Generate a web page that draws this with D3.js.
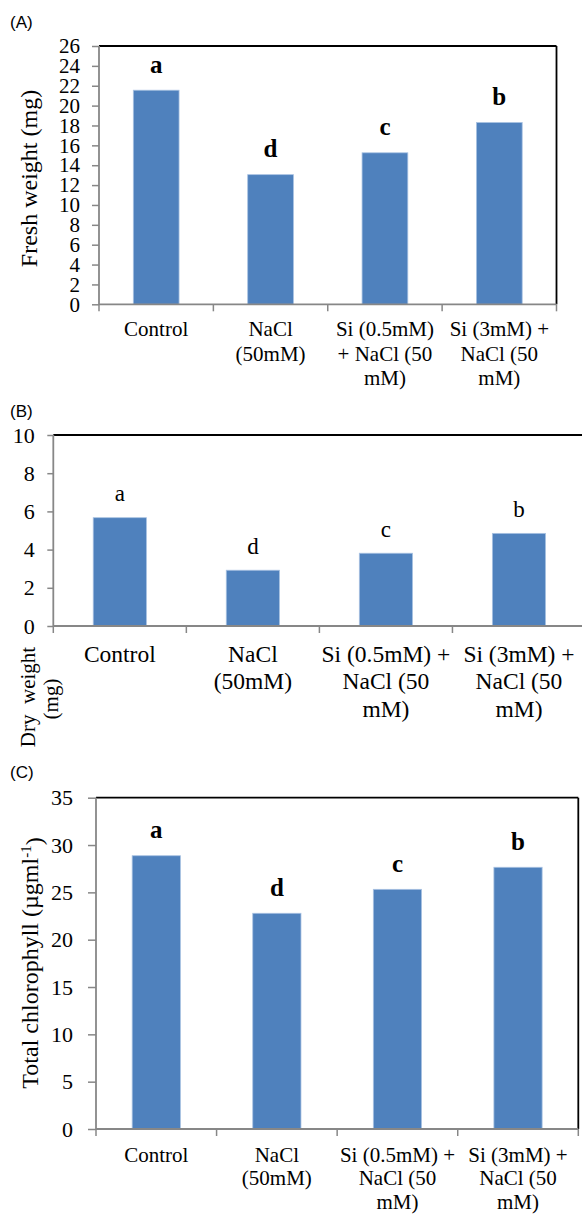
<!DOCTYPE html>
<html>
<head>
<meta charset="utf-8">
<script src="https://cdn.jsdelivr.net/npm/d3@7"></script>
<style>
	body { margin: 0; background: #fff; }
	svg { display: block; }
	text { font-family: "Liberation Serif", "Times New Roman", serif; fill: #000; }
	.tag { font-family: "Liberation Sans", "Open Sans", sans-serif; }
</style>
</head>
<body>
<svg id="fig" width="582" height="1214"></svg>
<script>
// data
var categories = ["Control", "NaCl (50mM)", "Si (0.5mM) + NaCl (50 mM)", "Si (3mM) + NaCl (50 mM)"];
var freshWeight = [21.55, 13.05, 15.25, 18.3];
var dryWeight = [5.67, 2.92, 3.81, 4.85];
var chlorophyll = [28.87, 22.79, 25.32, 27.65];
var letters = ["a", "d", "c", "b"];
var ticksA = [0, 2, 4, 6, 8, 10, 12, 14, 16, 18, 20, 22, 24, 26];
var ticksB = [0, 2, 4, 6, 8, 10];
var ticksC = [0, 5, 10, 15, 20, 25, 30, 35];
// how the category labels wrap in each panel
var linesA = [["Control"], ["NaCl", "(50mM)"], ["Si (0.5mM)", "+ NaCl (50", "mM)"], ["Si (3mM) +", "NaCl (50", "mM)"]];
var linesBC = [["Control"], ["NaCl", "(50mM)"], ["Si (0.5mM) +", "NaCl (50", "mM)"], ["Si (3mM) +", "NaCl (50", "mM)"]];

var svg = d3.select("#fig");
svg.append("rect").attr("width", 582).attr("height", 1214).attr("fill", "#fff");

function drawPanel(p)
{
	var g = svg.append("g");
	var x = d3.scaleBand().domain(categories).range([p.left, p.right]).paddingInner(0.6).paddingOuter(0.3);
	var y = d3.scaleLinear().domain([0, p.max]).range([p.bottom, p.top]);
	var step = x.step();

	// frame: black top and right
	g.append("line").attr("x1", p.left).attr("x2", p.right).attr("y1", p.top).attr("y2", p.top)
		.style("stroke", "#000").style("stroke-width", 1.8);
	g.append("line").attr("x1", p.right).attr("x2", p.right).attr("y1", p.top).attr("y2", p.bottom)
		.style("stroke", "#000").style("stroke-width", 1.8);

	// bars
	g.selectAll(".bar")
		.data(p.values)
		.enter()
		.append("rect")
		.attr("class", "bar")
		.attr("x", (d, i) => x(categories[i]))
		.attr("width", x.bandwidth())
		.attr("y", d => y(d))
		.attr("height", d => y(0) - y(d))
		.style("fill", "#4f81bd")
		.style("stroke", "#a9c2e2")
		.style("stroke-width", 0.8);

	// significance letters
	g.selectAll(".sig")
		.data(p.values)
		.enter()
		.append("text")
		.attr("class", "sig")
		.attr("x", (d, i) => x(categories[i]) + x.bandwidth() / 2)
		.attr("y", d => y(d) - p.letterGap)
		.attr("text-anchor", "middle")
		.style("font-size", p.letterSize + "px")
		.style("font-weight", p.bold ? "bold" : "normal")
		.text((d, i) => letters[i]);

	// y axis
	var yAxis = d3.axisLeft(y).tickValues(p.ticks).tickSize(p.tickLen).tickPadding(p.tickPad).tickFormat(d3.format("d"));
	var ya = g.append("g").attr("transform", "translate(" + p.left + ",0)").call(yAxis);
	ya.select(".domain").remove();
	ya.selectAll("line").style("stroke", "#878787").style("stroke-width", 1.5);
	ya.selectAll("text").style("font-size", p.tickFont + "px").style("font-family", "Liberation Serif");
	g.append("line").attr("x1", p.left).attr("x2", p.left).attr("y1", p.top).attr("y2", p.bottom)
		.style("stroke", "#878787").style("stroke-width", 1.8);

	// x axis with ticks between categories
	var bounds = d3.range(categories.length + 1).map(i => p.left + i * step);
	g.append("line").attr("x1", p.left).attr("x2", p.right).attr("y1", p.bottom).attr("y2", p.bottom)
		.style("stroke", "#878787").style("stroke-width", 1.8);
	g.selectAll(".xt")
		.data(bounds)
		.enter()
		.append("line")
		.attr("x1", d => d).attr("x2", d => d)
		.attr("y1", p.bottom).attr("y2", p.bottom + 7)
		.style("stroke", "#878787").style("stroke-width", 1.5);

	// category labels
	var lab = g.selectAll(".xl")
		.data(p.lines)
		.enter()
		.append("text")
		.attr("class", "xl")
		.attr("text-anchor", "middle")
		.style("font-size", p.labelFont + "px")
		.attr("transform", (d, i) => "translate(" + (x(categories[i]) + x.bandwidth() / 2) + "," + (p.bottom + p.labelGap) + ")");
	lab.selectAll("tspan")
		.data(d => d)
		.enter()
		.append("tspan")
		.attr("x", 0)
		.attr("y", (d, j) => j * p.lineH)
		.text(d => d);

	// panel tag
	g.append("text").attr("class", "tag").attr("x", 10).attr("y", p.tagY)
		.style("font-size", "17px").text(p.tag);
	return g;
}

var gA = drawPanel({tag: "(A)", tagY: 28, values: freshWeight, max: 26, ticks: ticksA,
	left: 99, right: 556.5, top: 46, bottom: 304.3,
	tickLen: 7, tickPad: 12, tickFont: 21, bold: true, letterSize: 25, letterGap: 17.5,
	lines: linesA, labelFont: 21, labelGap: 32, lineH: 24.5});
gA.append("text").attr("transform", "translate(37,178.5) rotate(-90)")
	.attr("text-anchor", "middle").style("font-size", "24px").text("Fresh weight (mg)");

var gB = drawPanel({tag: "(B)", tagY: 417, values: dryWeight, max: 10, ticks: ticksB,
	left: 53.3, right: 585.5, top: 435, bottom: 626,
	tickLen: 6, tickPad: 12.5, tickFont: 22, bold: false, letterSize: 23, letterGap: 16.5,
	lines: linesBC, labelFont: 23.5, labelGap: 35.7, lineH: 27.5});
gB.append("text").attr("transform", "translate(35,697) rotate(-90)")
	.attr("text-anchor", "middle").style("font-size", "21px").style("white-space", "pre").text("Dry  weight");
gB.append("text").attr("transform", "translate(58,699) rotate(-90)")
	.attr("text-anchor", "middle").style("font-size", "21px").text("(mg)");

var gC = drawPanel({tag: "(C)", tagY: 778, values: chlorophyll, max: 35, ticks: ticksC,
	left: 96, right: 578.3, top: 797.7, bottom: 1129,
	tickLen: 8, tickPad: 15, tickFont: 22, bold: true, letterSize: 25, letterGap: 17.5,
	lines: linesBC, labelFont: 21, labelGap: 32.5, lineH: 23.5});
var yl = gC.append("text").attr("transform", "translate(37.5,963) rotate(-90)")
	.attr("text-anchor", "middle").style("font-size", "24px");
yl.append("tspan").text("Total chlorophyll (µgml");
yl.append("tspan").attr("dy", "-0.45em").style("font-size", "15px").text("-1");
yl.append("tspan").attr("dy", "0.45em").text(")");
</script>
</body>
</html>
